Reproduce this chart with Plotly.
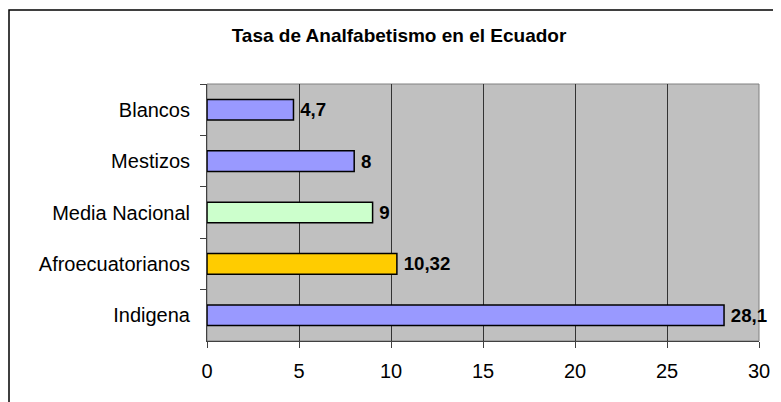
import plotly.graph_objects as go

categories = ["Blancos", "Mestizos", "Media Nacional", "Afroecuatorianos", "Indigena"]
values = [4.7, 8, 9, 10.32, 28.1]
bar_colors = ["#9999FF", "#9999FF", "#CCFFCC", "#FFCC00", "#9999FF"]
x_ticks = [0, 5, 10, 15, 20, 25, 30]
title = "Tasa de Analfabetismo en el Ecuador"

labels = ["\u2009" + f"{v:g}".replace(".", ",") for v in values]

OFF = 8  # page body margin
W, H = 781 - OFF, 402 - OFF
L, T = 207 - OFF, 84 - OFF
R = W - (759 - OFF)
B = H - (341 - OFF)
pw = W - L - R
ph = H - T - B

FONT = "Liberation Sans, Arial"

fig = go.Figure(go.Bar(
    x=values, y=categories, orientation="h",
    marker=dict(color=bar_colors, line=dict(color="#000000", width=1.5)),
    text=labels, textposition="outside", cliponaxis=False,
    textfont=dict(family=FONT, size=20, color="#000000", weight="bold"),
    hoverinfo="skip",
))

fig.update_layout(
    width=W, height=H,
    margin=dict(l=L, r=R, t=T, b=B, pad=0, autoexpand=False),
    paper_bgcolor="#FFFFFF",
    plot_bgcolor="#C0C0C0",
    bargap=0.6,
    showlegend=False,
    font=dict(family=FONT, size=20, color="#000000"),
    title=dict(text="<b>" + title + "</b>", x=(399 - OFF) / W, xanchor="center",
               y=1 - (35 - OFF) / H, yanchor="middle",
               font=dict(size=19, family=FONT)),
    xaxis=dict(range=[0, 30], tickvals=x_ticks, ticks="outside", ticklen=6,
               tickcolor="#404040", showgrid=True, gridcolor="#333333", gridwidth=1,
               showline=True, linecolor="#404040", linewidth=1, zeroline=False,
               ticklabelstandoff=6, tickfont=dict(size=20)),
    yaxis=dict(autorange="reversed", ticks="outside", ticklen=6, tickson="boundaries",
               tickcolor="#404040", showline=True, linecolor="#404040", linewidth=1,
               showgrid=False, ticklabelstandoff=12, tickfont=dict(size=20)),
    shapes=[
        dict(type="rect", xref="paper", yref="paper", x0=0, x1=1, y0=0, y1=1,
             line=dict(color="#808080", width=1), layer="below"),
        dict(type="rect", xref="paper", yref="paper",
             x0=(9 - OFF - L) / pw, x1=(W + 20 - L) / pw,
             y0=(H - B - (H + 20)) / ph, y1=(H - B - (10 - OFF)) / ph,
             line=dict(color="#000000", width=1.5), fillcolor="rgba(0,0,0,0)"),
    ],
)

fig.write_html("out.html")
